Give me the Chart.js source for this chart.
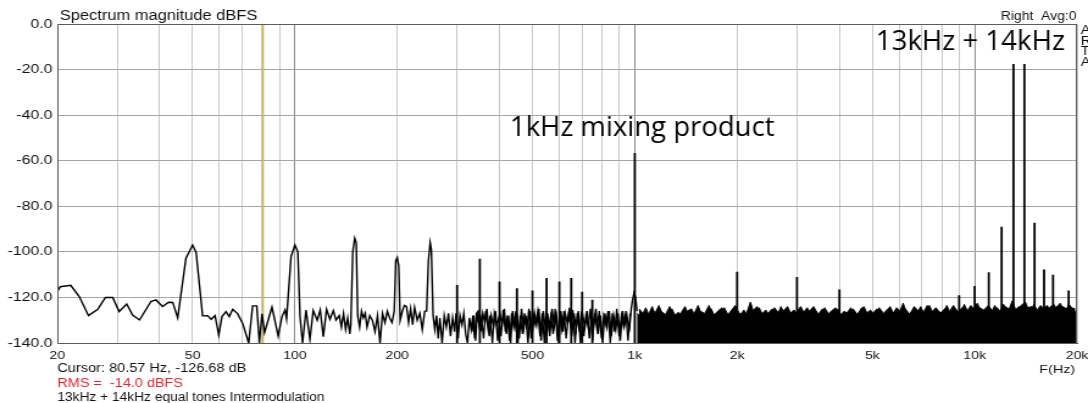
<!DOCTYPE html>
<html>
<head>
<meta charset="utf-8">
<title>Spectrum magnitude dBFS</title>
<script src="https://cdn.jsdelivr.net/npm/chart.js@4.4.1/dist/chart.umd.min.js"></script>
<style>
  html, body { margin: 0; padding: 0; background: #fff; overflow: hidden; }
</style>
</head>
<body>
<canvas id="spectrum" width="892" height="403" style="display:block;width:1088px;height:403px"></canvas>
<script>
// 20 Hz .. ~1 kHz trace: hum harmonics at 50/100/150/200/250 Hz on a ragged floor
var lowFreqs = [
  20, 20.4, 21.9, 23.2, 24.7, 26.3, 27.7, 29.1, 30.4, 32.0,
  33.3, 34.9, 37.7, 39.0, 40.8, 42.5, 43.7, 45.2, 47.8, 50,
  51.2, 53.5, 55.4, 56.7, 58.2, 59.7, 61.0, 62.7, 64.1, 65.6,
  67.8, 70.2, 73.1, 75.1, 77.2, 78.6, 80.0, 81.4, 85.6, 89.3,
  91.6, 93.5, 94.5, 97.4, 100, 102, 103.5, 105.3, 107.8, 110.7,
  113.2, 116.3, 118.7, 121.2, 123.9, 126.8, 129.7, 132.1, 135, 137,
  139, 141, 143, 145, 146, 148, 150, 151.5, 153, 155,
  157, 159, 161, 163, 166, 169, 172, 175, 178, 181,
  184, 187, 190, 193, 196, 198, 200, 202, 204, 207,
  210, 213, 216, 219, 222, 225, 229, 233, 237, 241,
  244, 247, 250, 252, 255, 258, 261, 264, 267, 271,
  275, 279, 283, 287, 291, 295, 298, 302, 306, 310,
  314, 318, 322, 326, 330, 334, 338, 342, 346, 352,
  357, 362, 367, 373, 378, 384, 389, 395, 401, 407,
  413, 419, 425, 431, 437, 444, 450, 457, 464, 471,
  478, 485, 492, 499, 507, 514, 522, 530, 538, 546,
  554, 562, 571, 579, 588, 597, 606, 615, 624, 633,
  643, 652, 662, 672, 682, 692, 703, 713, 724, 735,
  746, 757, 768, 780, 792, 804, 816, 828, 841, 853,
  866, 879, 892, 906, 920, 934, 948, 962, 976, 985,
  995, 1005, 1015
];
var lowLevels = [
  -117.5, -115.3, -114.7, -119.6, -128, -125.2, -120, -120, -126.2, -122.9,
  -127.7, -129.9, -121.8, -121.1, -124, -122.1, -122.2, -128.9, -102.8, -97,
  -100.2, -128.1, -128, -129.6, -128, -136.5, -128.4, -126.2, -128.4, -125.2,
  -127.1, -131.4, -140, -123.7, -123.7, -140, -127.2, -135.4, -124.3, -136.9,
  -128.4, -125.5, -129.4, -102.1, -97, -100, -128.4, -140, -125.5, -138.4,
  -125.8, -130, -125.5, -137.2, -125.2, -129.6, -125.8, -130, -128, -133,
  -127, -134, -129, -136, -132, -100, -94, -96, -128, -133,
  -126, -129, -127, -133, -128, -130, -135, -128, -140, -127,
  -131, -126, -129, -131, -126, -104, -102.5, -106, -130, -126,
  -123.5, -124, -131, -125, -132, -124.5, -130, -127, -134, -126,
  -126, -104, -96, -99, -128, -134, -128, -138, -129, -140,
  -128, -133, -127, -137, -129, -135, -127, -138, -128, -132,
  -127, -136, -140, -129, -134, -128, -138, -127, -126, -135,
  -127, -131, -125, -137, -128, -133, -126, -139, -127, -132,
  -125, -136, -128, -140, -126, -133, -127, -138, -125, -134,
  -128, -140, -126, -136, -127, -132, -125, -139, -126, -134,
  -127, -137, -125, -133, -128, -140, -126, -135, -127, -131,
  -124.5, -137, -127, -134, -126, -140, -128, -133, -126, -138,
  -127, -132, -125, -136, -128, -140, -127, -133, -126, -137,
  -128, -134, -127, -139, -126, -132, -128, -135, -125, -121,
  -118, -120, -126
];

// the other half of the FFT bins between 330 Hz and 1 kHz (plotted as its own trace)
var midFreqs = [
  332, 336, 340, 344, 349, 354, 359, 364, 370, 375,
  381, 386, 392, 398, 404, 410, 416, 422, 428, 434,
  440, 447, 453, 460, 467, 474, 481, 488, 495, 503,
  510, 518, 526, 534, 542, 550, 558, 566, 575, 583,
  592, 601, 610, 619, 628, 638, 647, 657, 667, 677,
  687, 697, 708, 718, 729, 740, 751, 762, 774, 786,
  798, 810, 822, 834, 847, 859, 872, 885, 899, 913,
  927, 941, 955, 969
];
var midLevels = [
  -135, -128, -139, -127, -133, -129, -138, -126, -134, -128,
  -140, -127, -132, -129, -137, -125.5, -135, -128, -139, -127,
  -133, -126, -140, -128, -136, -127, -134, -125, -138, -128,
  -132, -126, -137, -127, -140, -126, -133, -128, -136, -125,
  -139, -127, -134, -126, -138, -128, -132, -125.5, -140, -127,
  -135, -126, -137, -128, -133, -125, -139, -127, -134, -126,
  -138, -128, -132, -126, -140, -127, -135, -125, -137, -128,
  -133, -126, -139, -127
];

// 1 kHz .. 20 kHz noise floor, top edge of the even bins (filled down to the scale bottom)
var floorFreqs = [
  1015, 1045, 1077, 1109, 1142, 1177, 1212, 1248, 1286, 1324,
  1364, 1405, 1447, 1490, 1535, 1581, 1629, 1678, 1728, 1780,
  1833, 1888, 1945, 2003, 2063, 2125, 2189, 2255, 2322, 2392,
  2464, 2538, 2614, 2692, 2773, 2856, 2942, 3030, 3121, 3215,
  3311, 3410, 3513, 3618, 3727, 3838, 3954, 4072, 4194, 4320,
  4450, 4583, 4721, 4862, 5008, 5159, 5313, 5473, 5637, 5806,
  5980, 6160, 6345, 6535, 6731, 6933, 7141, 7355, 7576, 7803,
  8037, 8278, 8527, 8782, 9046, 9317, 9597, 9885, 10181, 10487,
  10801, 11125, 11459, 11803, 12157, 12522, 12897, 13284, 13683, 14093,
  14516, 14951, 15400, 15862, 16338, 16828, 17333, 17853, 18388, 18940,
  19508, 20000
];
var floorLevels = [
  -127, -128.5, -124.5, -129, -127.5, -123.5, -128, -128.5, -125, -129,
  -127, -124, -128.5, -127.5, -123.5, -128.5, -127, -125, -129, -127.5,
  -124.5, -128, -127, -125.5, -128.5, -127.5, -122, -128, -124.5, -128.5,
  -127, -125, -128.5, -124, -128, -127, -125.5, -128.5, -127, -124.5,
  -128, -126, -128.5, -124.5, -127.5, -128, -125, -128.5, -127, -124.5,
  -128, -126.5, -124, -128, -127, -125, -128.5, -126.5, -124, -128,
  -127, -122.5, -128, -126, -127.5, -124, -128, -123.5, -127.5, -126,
  -127, -123.5, -127.5, -125, -127.5, -123, -127, -125.5, -122.5, -127,
  -125.5, -127.5, -123.5, -127, -123, -126.5, -121.5, -126.5, -123.5, -122,
  -126.5, -123, -127, -125, -123.5, -127, -124.5, -122.5, -126.5, -123,
  -125.5, -126.5
];

// same floor, odd bins
var floor2Freqs = [
  1030, 1061, 1093, 1125, 1159, 1194, 1230, 1267, 1305, 1344,
  1384, 1426, 1468, 1512, 1558, 1605, 1653, 1703, 1754, 1806,
  1860, 1916, 1974, 2033, 2094, 2157, 2222, 2288, 2357, 2428,
  2501, 2576, 2653, 2732, 2814, 2899, 2986, 3075, 3168, 3263,
  3360, 3461, 3565, 3672, 3782, 3896, 4013, 4133, 4257, 4385,
  4516, 4652, 4791, 4935, 5083, 5236, 5393, 5555, 5721, 5893,
  6070, 6252, 6440, 6633, 6832, 7037, 7248, 7465, 7689, 7920,
  8157, 8402, 8654, 8914, 9181, 9457, 9740, 10033, 10334, 10644,
  10963, 11292, 11631, 11980, 12339, 12709, 13090, 13483, 13888, 14304,
  14733, 15175, 15630, 16099, 16582, 17080, 17592, 18120, 18664, 19224,
  19754
];
var floor2Levels = [
  -125, -127.5, -128, -124, -129, -126, -127.5, -124, -128, -126.5,
  -128.5, -126, -125, -129, -126, -127, -123.5, -128, -126, -124.5,
  -128.5, -126, -123.5, -128, -125.5, -128.5, -126, -124, -127.5, -125.5,
  -128.5, -124.5, -127, -126, -124, -128, -126.5, -124, -127.5, -126,
  -124, -127.5, -125, -128, -126, -124.5, -128, -126, -127.5, -125,
  -127.5, -124.5, -127, -125.5, -128, -124.5, -127, -125, -127.5, -124.5,
  -126.5, -125, -127.5, -124, -126, -127, -123.5, -126.5, -124.5, -127,
  -125, -126.5, -123.5, -126.5, -124.5, -126.5, -123.5, -126, -124.5, -125.5,
  -123.5, -126, -124.5, -126.5, -124, -125.5, -126, -124, -125, -124.5,
  -124, -126, -123.5, -125.5, -124.5, -123, -126, -124, -125, -124.5,
  -125
];

// single-bin lines: mains harmonics, the 1 kHz difference tone, the two tones and their IMD
var spikeFreqs = [300, 350, 400, 450, 500, 550, 600, 650, 700, 750,
  1000, 2000, 3000, 4000, 9000, 10000, 11000, 12000, 13000, 14000,
  15000, 16000, 17000, 18900];
var spikeLevels = [-114.5, -103, -113, -116, -117, -111.5, -113, -111.5, -117.5, -121,
  -56.6, -108.7, -111, -116.5, -119, -115, -109, -89, -17.6, -17.6,
  -87.2, -107.7, -110, -117];

var gridFreqs = [20, 30, 40, 50, 60, 70, 80, 90,
  100, 200, 300, 400, 500, 600, 700, 800, 900,
  1000, 2000, 3000, 4000, 5000, 6000, 7000, 8000, 9000,
  10000, 20000];
var decadeFreqs = [100, 1000, 10000];
var freqLabels = { 20: '20', 50: '50', 100: '100', 200: '200', 500: '500',
  1000: '1k', 2000: '2k', 5000: '5k', 10000: '10k', 20000: '20k' };

var cursorFreq = 80.57;
var dbMin = -140;
var dbMax = 0;

var sans = '"Liberation Sans", Arial, sans-serif';
var slideFont = '"Open Sans", "Noto Sans", sans-serif';

function toPoints(freqs, levels) {
  return freqs.map(function(f, i) { return { x: f, y: levels[i] }; });
}

function spikePoints() {
  var pts = [];
  spikeFreqs.forEach(function(f, i) {
    pts.push({ x: f, y: dbMin }, { x: f, y: spikeLevels[i] }, { x: f, y: null });
  });
  return pts;
}

// draw text squeezed/stretched to a given run length
function drawFitted(ctx, text, x, y, width, font, align) {
  ctx.font = font;
  var w = ctx.measureText(text).width;
  ctx.save();
  ctx.translate(align === 'right' ? x - width : x, y);
  ctx.scale(width / w, 1);
  ctx.textAlign = 'left';
  ctx.fillText(text, 0, 0);
  ctx.restore();
}

var frameAndText = {
  id: 'frameAndText',
  afterDraw: function(chart) {
    var ctx = chart.ctx;
    var a = chart.chartArea;
    ctx.save();
    ctx.strokeStyle = '#5c5c5c';
    ctx.lineWidth = 1;
    ctx.strokeRect(Math.round(a.left) + 0.5, Math.round(a.top) + 0.5,
      Math.round(a.right - a.left) - 1, Math.round(a.bottom - a.top));

    ctx.fillStyle = '#111';
    ctx.textBaseline = 'alphabetic';
    drawFitted(ctx, 'Spectrum magnitude dBFS', 49, 19.5, 162, '14px ' + sans);
    drawFitted(ctx, 'Right  Avg:0', 882.5, 19.5, 62, '12px ' + sans, 'right');

    ctx.font = '12px ' + sans;
    ctx.textAlign = 'left';
    ['A', 'R', 'T', 'A'].forEach(function(ch, i) {
      ctx.fillText(ch, 886, 34 + i * 10.5);
    });

    drawFitted(ctx, 'F(Hz)', 881.5, 373, 29.5, '11px ' + sans, 'right');
    drawFitted(ctx, 'Cursor: 80.57 Hz, -126.68 dB', 47, 372, 155, '12px ' + sans);
    ctx.fillStyle = '#e0262e';
    drawFitted(ctx, 'RMS =  -14.0 dBFS', 47, 387, 103, '12px ' + sans);
    ctx.fillStyle = '#111';
    drawFitted(ctx, '13kHz + 14kHz equal tones Intermodulation', 47, 401, 219, '12px ' + sans);

    // slide annotations
    ctx.fillStyle = '#000';
    drawFitted(ctx, '1kHz mixing product', 418, 136, 217, '27px ' + slideFont);
    drawFitted(ctx, '13kHz + 14kHz', 718, 50, 155, '27px ' + slideFont);
    ctx.restore();
  }
};

new Chart(document.getElementById('spectrum'), {
  type: 'scatter',
  data: {
    datasets: [
      { data: toPoints([cursorFreq, cursorFreq], [dbMax, dbMin]), showLine: true,
        borderColor: '#c4bb4e', borderWidth: 1.4, pointRadius: 0, order: 7 },
      { data: toPoints(floorFreqs, floorLevels), showLine: true, fill: 'start',
        backgroundColor: '#000', borderColor: '#000', borderWidth: 0.9, pointRadius: 0, order: 6 },
      { data: toPoints(floor2Freqs, floor2Levels), showLine: true, fill: 'start',
        backgroundColor: '#000', borderColor: '#000', borderWidth: 0.9, pointRadius: 0, order: 5 },
      { data: toPoints(midFreqs, midLevels), showLine: true,
        borderColor: '#000', borderWidth: 1.3, pointRadius: 0, order: 4 },
      { data: toPoints(lowFreqs, lowLevels), showLine: true,
        borderColor: '#000', borderWidth: 1.4, pointRadius: 0, order: 3 },
      { data: spikePoints(), showLine: true, spanGaps: false,
        borderColor: '#000', borderWidth: 1.8, pointRadius: 0, order: 2 }
    ]
  },
  options: {
    responsive: false,
    animation: false,
    events: [],
    layout: { padding: { top: 24, right: 9, left: 0, bottom: 0 } },
    plugins: { legend: { display: false }, tooltip: { enabled: false } },
    scales: {
      x: {
        type: 'logarithmic',
        min: 20,
        max: 20000,
        afterBuildTicks: function(scale) {
          scale.ticks = gridFreqs.map(function(v) { return { value: v }; });
        },
        afterFit: function(scale) {
          scale.height = 60;
          scale.paddingLeft = 0;
          scale.paddingRight = 0;
        },
        border: { color: '#5c5c5c' },
        grid: {
          drawTicks: false,
          color: function(ctx) {
            return ctx.tick && decadeFreqs.indexOf(ctx.tick.value) >= 0 ? '#8c8c8c' : '#c9c9c9';
          }
        },
        ticks: {
          autoSkip: false,
          maxRotation: 0,
          minRotation: 0,
          padding: 6,
          color: '#111',
          font: { family: sans, size: 11.5 },
          callback: function(value) { return freqLabels[value] || ''; }
        }
      },
      y: {
        min: dbMin,
        max: dbMax,
        afterFit: function(scale) {
          scale.width = 47;
          scale.paddingTop = 0;
          scale.paddingBottom = 0;
        },
        border: { color: '#5c5c5c' },
        grid: { drawTicks: false, color: '#a6a6a6' },
        ticks: {
          stepSize: 20,
          padding: 4,
          color: '#111',
          font: { family: sans, size: 13 },
          callback: function(value) { return value.toFixed(1); }
        }
      }
    }
  },
  plugins: [frameAndText]
});
</script>
</body>
</html>
